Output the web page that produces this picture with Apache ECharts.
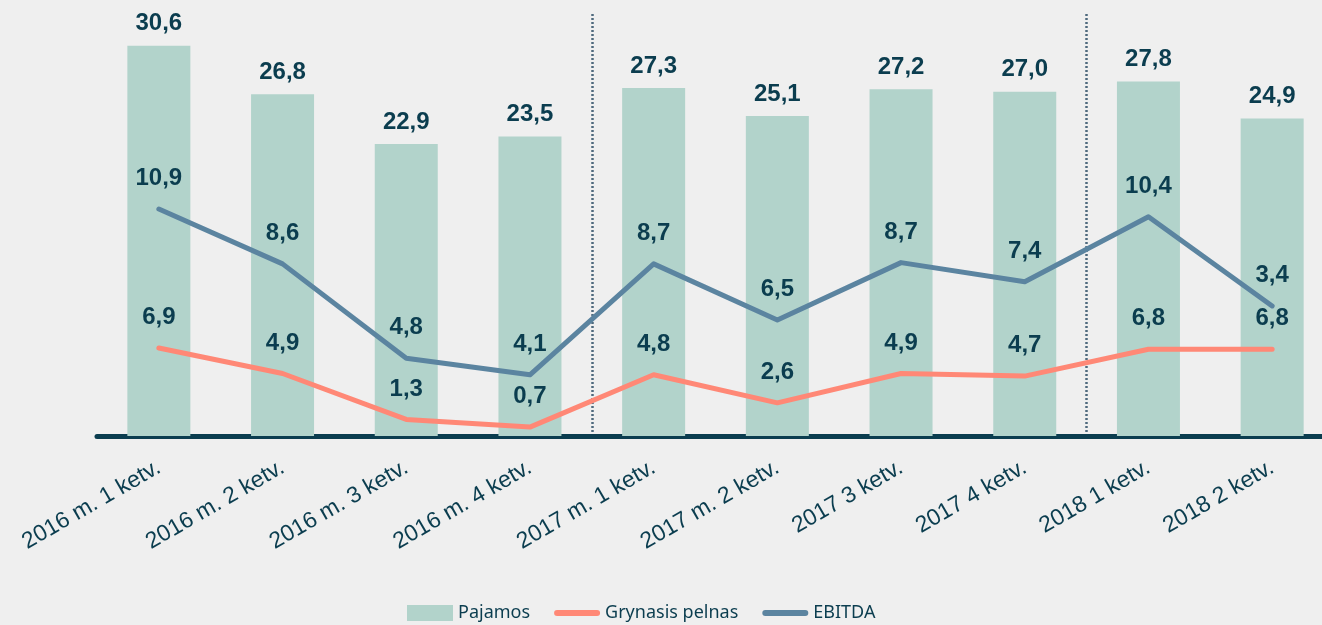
<!DOCTYPE html>
<html>
<head>
<meta charset="utf-8">
<script src="https://cdn.jsdelivr.net/npm/echarts@6/dist/echarts.min.js"></script>
<style>
  html, body { margin: 0; padding: 0; background: #efefef; }
  #chart { width: 1322px; height: 625px; }
</style>
</head>
<body>
<div id="chart"></div>
<script>
// ketvirčiai
const categories = [
  "2016 m. 1 ketv.", "2016 m. 2 ketv.", "2016 m. 3 ketv.", "2016 m. 4 ketv.",
  "2017 m. 1 ketv.", "2017 m. 2 ketv.", "2017 3 ketv.", "2017 4 ketv.",
  "2018 1 ketv.", "2018 2 ketv."
];
const pajamos = [30.6, 26.8, 22.9, 23.5, 27.3, 25.1, 27.2, 27.0, 27.8, 24.9];
const grynasisPelnas = [6.9, 4.9, 1.3, 0.7, 4.8, 2.6, 4.9, 4.7, 6.8, 6.8];
// EBITDA linija sukrauta ant grynojo pelno (kaip originale)
const ebitda = [10.9, 8.6, 4.8, 4.1, 8.7, 6.5, 8.7, 7.4, 10.4, 3.4];
// vertikalios skiriamosios linijos prieš šiuos ketvirčius
const dividerBefore = [4, 8];

const dark = "#0b3d4f";
const fmt = p => p.value.toFixed(1).replace(".", ",");
const labelStyle = {
  show: true,
  position: "top",
  color: dark,
  fontFamily: "Liberation Sans, Arial, sans-serif",
  fontWeight: "bold",
  fontSize: 24,
  formatter: fmt
};
// plona linija legendai (rėmelis 46x16)
const lineIcon = "path://M0,0 M46,16 M3,5 L43,5 A3,3 0 0 1 43,11 L3,11 A3,3 0 0 1 3,5 Z";

const chart = echarts.init(document.getElementById("chart"));
chart.setOption({
  backgroundColor: "#efefef",
  animation: false,
  grid: { left: 97, width: 1237, top: 14, bottom: 189, containLabel: false, outerBoundsMode: "none" },
  legend: {
    left: 402,
    top: 599,
    itemWidth: 46,
    itemHeight: 16,
    itemGap: 24,
    textStyle: { color: dark, fontSize: 18, fontFamily: "Noto Sans, sans-serif" },
    data: [
      { name: "Pajamos", icon: "rect" },
      { name: "Grynasis pelnas", icon: lineIcon },
      { name: "EBITDA", icon: lineIcon }
    ]
  },
  xAxis: {
    type: "category",
    data: categories,
    boundaryGap: true,
    axisLine: { show: true, lineStyle: { color: dark, width: 5 } },
    axisTick: { show: false },
    axisLabel: {
      interval: 0,
      rotate: 30,
      margin: 30,
      color: dark,
      fontSize: 23,
      fontFamily: "Liberation Sans, Arial, sans-serif"
    },
    splitLine: {
      show: true,
      interval: (index) => dividerBefore.includes(index),
      lineStyle: { color: "#4f6a7e", width: 2.5, type: [2, 2] }
    }
  },
  yAxis: {
    type: "value",
    min: 0,
    max: 33.1,
    show: false,
    splitLine: { show: false }
  },
  series: [
    {
      name: "Pajamos",
      type: "bar",
      data: pajamos,
      barWidth: 63,
      itemStyle: { color: "#b2d3cb" },
      label: Object.assign({}, labelStyle, { distance: 10 })
    },
    {
      name: "Grynasis pelnas",
      type: "line",
      stack: "lines",
      data: grynasisPelnas,
      symbol: "circle",
      symbolSize: 1,
      itemStyle: { color: "#ff8876" },
      lineStyle: { color: "#ff8876", width: 5, cap: "round", join: "round" },
      label: Object.assign({}, labelStyle, { distance: 18 }),
      z: 3
    },
    {
      name: "EBITDA",
      type: "line",
      stack: "lines",
      data: ebitda,
      symbol: "circle",
      symbolSize: 1,
      itemStyle: { color: "#5b84a0" },
      lineStyle: { color: "#5b84a0", width: 5, cap: "round", join: "round" },
      label: Object.assign({}, labelStyle, { distance: 18 }),
      z: 4
    }
  ]
});
</script>
</body>
</html>
